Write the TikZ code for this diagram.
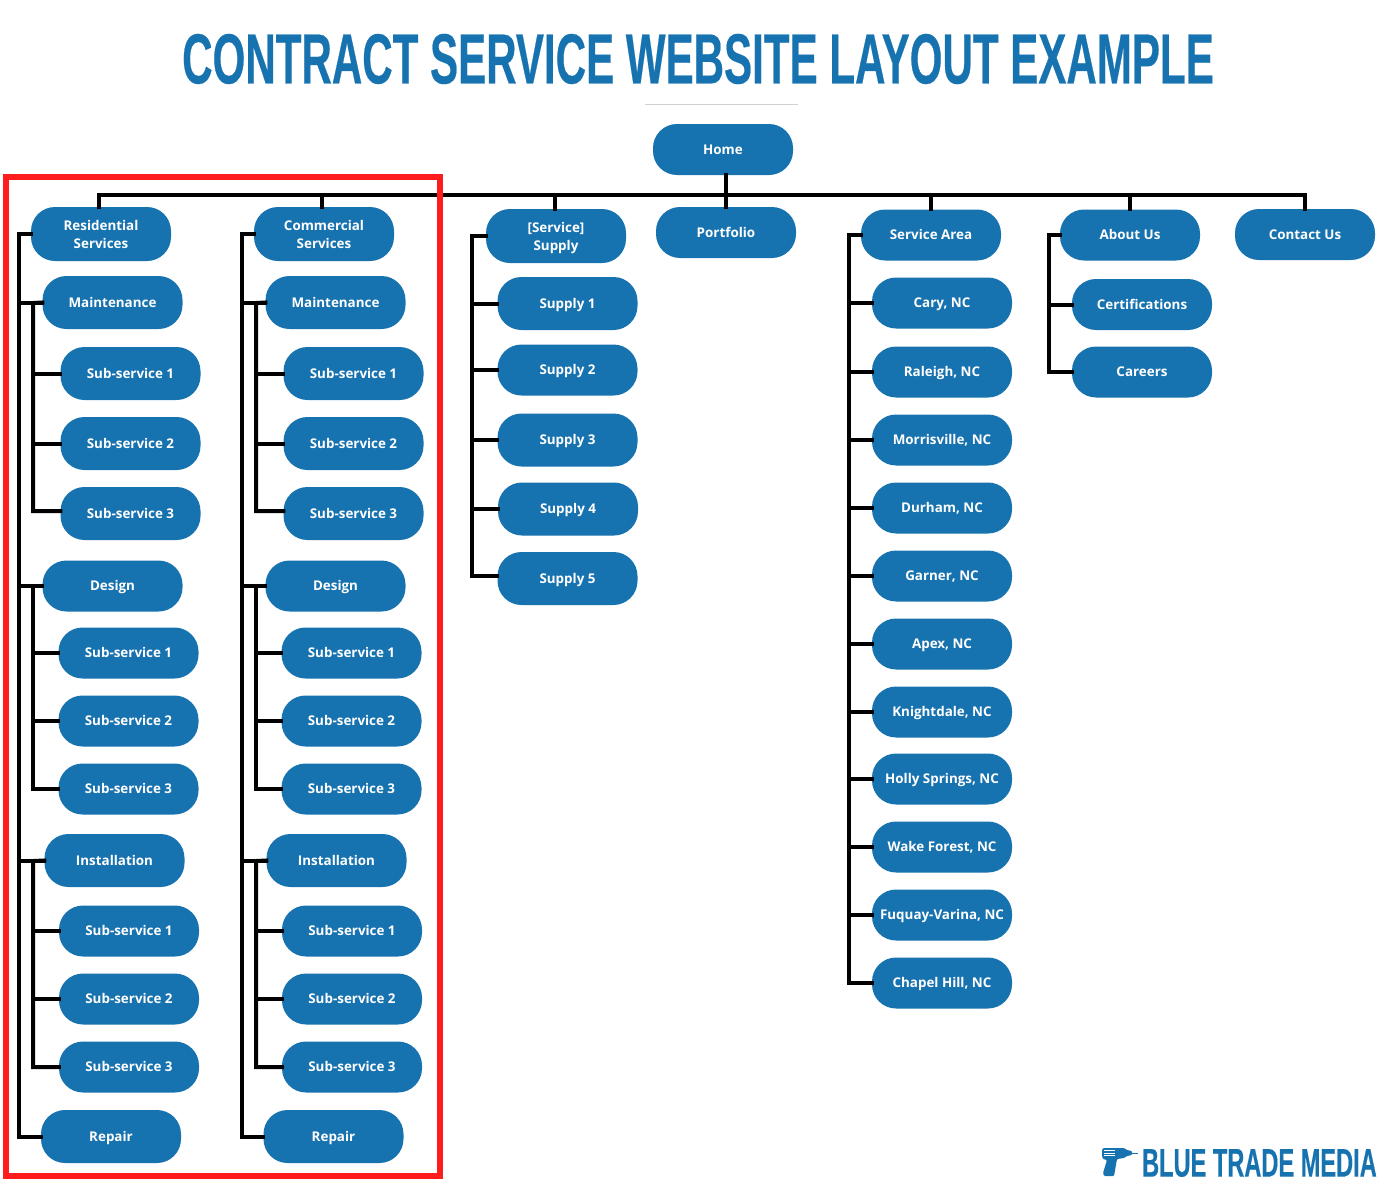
\documentclass[tikz,border=0pt]{standalone}
\usepackage{fontspec}
\setmainfont{Open Sans}
\newfontfamily\titlefont[FakeStretch=0.593,FakeBold=0.3]{Liberation Sans Bold}
\newfontfamily\logofont[FakeStretch=0.59,FakeBold=0.3]{Liberation Sans Bold}
\definecolor{pillblue}{HTML}{1772B0}
\definecolor{framered}{HTML}{FF1C1C}
\tikzset{
  pill/.style={fill=pillblue,text=white,font=\fontsize{13.4}{18}\selectfont\bfseries,
    minimum width=140pt,minimum height=51pt,inner sep=0pt,rounded corners=24pt,align=center,
    text height=9pt,text depth=0pt},
  pilltwo/.style={pill,minimum height=54pt,text height=29pt},
  link/.style={line width=4pt,line cap=rect}
}
\begin{document}
\begin{tikzpicture}[x=1pt,y=-1pt]
      \useasboundingbox (0,0) rectangle (1400,1200);
      \node[font=\titlefont\fontsize{71}{71}\selectfont,text=pillblue,inner sep=0pt] (title) at (698,59) {CONTRACT SERVICE WEBSITE LAYOUT EXAMPLE};
      \coordinate (ruleleft) at (645,104);
      \coordinate (ruleright) at (798,104);
      \draw[black!18,line width=1pt] (ruleleft) -- (ruleright);
      \coordinate (bus) at (726,195);
      \coordinate (busres) at (99,195);
      \coordinate (buscom) at (322,195);
      \coordinate (bussup) at (555,195);
      \coordinate (busare) at (931,195);
      \coordinate (busabo) at (1130,195);
      \coordinate (buscon) at (1305,195);
      \coordinate (tres) at (19,234);
      \coordinate (tcom) at (242,234);
      \coordinate (tsup) at (472,236);
      \coordinate (tare) at (849,235);
      \coordinate (tabo) at (1049,235);
      \coordinate (tresm) at (33,303);
      \coordinate (tresd) at (33,586);
      \coordinate (tresi) at (33,861);
      \coordinate (tcomm) at (256,303);
      \coordinate (tcomd) at (256,586);
      \coordinate (tcomi) at (256,861);
      \draw
        (723,149.5) node[pill] (home){Home}
        (101,234) node[pilltwo] (res){Residential\\Services}
        (324,234) node[pilltwo] (com){Commercial\\Services}
        (556,236) node[pilltwo] (sup){[Service]\\Supply}
        (726,232.5) node[pill] (por){Portfolio}
        (931,235) node[pill] (are){Service Area}
        (1130,235) node[pill] (abo){About Us}
        (1305,234.5) node[pill] (con){Contact Us}
        (112.5,302.5) node[pill,minimum height=53pt] (rm){Maintenance}
        (130.5,373.5) node[pill,minimum height=53pt] (rm1){Sub-service 1}
        (130.5,443.5) node[pill,minimum height=53pt] (rm2){Sub-service 2}
        (130.5,513.5) node[pill,minimum height=53pt] (rm3){Sub-service 3}
        (112.5,586) node[pill] (rd){Design}
        (128.5,653) node[pill] (rd1){Sub-service 1}
        (128.5,721) node[pill] (rd2){Sub-service 2}
        (128.5,789) node[pill] (rd3){Sub-service 3}
        (114.5,860.5) node[pill,minimum height=53pt] (ri){Installation}
        (129,931) node[pill] (ri1){Sub-service 1}
        (129,999) node[pill] (ri2){Sub-service 2}
        (129,1067) node[pill] (ri3){Sub-service 3}
        (111,1136.5) node[pill,minimum height=53pt] (rr){Repair}
        (335.5,302.5) node[pill,minimum height=53pt] (cm){Maintenance}
        (353.5,373.5) node[pill,minimum height=53pt] (cm1){Sub-service 1}
        (353.5,443.5) node[pill,minimum height=53pt] (cm2){Sub-service 2}
        (353.5,513.5) node[pill,minimum height=53pt] (cm3){Sub-service 3}
        (335.5,586) node[pill] (cd){Design}
        (351.5,653) node[pill] (cd1){Sub-service 1}
        (351.5,721) node[pill] (cd2){Sub-service 2}
        (351.5,789) node[pill] (cd3){Sub-service 3}
        (336.5,860.5) node[pill,minimum height=53pt] (ci){Installation}
        (352,931) node[pill] (ci1){Sub-service 1}
        (352,999) node[pill] (ci2){Sub-service 2}
        (352,1067) node[pill] (ci3){Sub-service 3}
        (333.5,1136.5) node[pill,minimum height=53pt] (cr){Repair}
        (567.5,303.5) node[pill,minimum height=53pt] (s1){Supply 1}
        (567.5,370) node[pill] (s2){Supply 2}
        (567.5,440) node[pill,minimum height=53pt] (s3){Supply 3}
        (568,509) node[pill,minimum height=53pt] (s4){Supply 4}
        (567.5,578.5) node[pill,minimum height=53pt] (s5){Supply 5}
        (942,303) node[pill] (a1){Cary, NC}
        (942,372) node[pill] (a2){Raleigh, NC}
        (942,440) node[pill] (a3){Morrisville, NC}
        (942,508) node[pill] (a4){Durham, NC}
        (942,576) node[pill] (a5){Garner, NC}
        (942,644) node[pill] (a6){Apex, NC}
        (942,712) node[pill] (a7){Knightdale, NC}
        (942,779) node[pill] (a8){Holly Springs, NC}
        (942,847) node[pill] (a9){Wake Forest, NC}
        (942,915) node[pill] (a10){Fuquay-Varina, NC}
        (942,983) node[pill] (a11){Chapel Hill, NC}
        (1142,304.5) node[pill] (b1){Certifications}
        (1142,372) node[pill] (b2){Careers};
      \begin{scope}[link]
        \draw (busres) -- (buscon);
        \draw (bus |- home.south) to (por.north);
        \draw (busres) to (busres |- res.north);
        \draw (buscom) to (buscom |- com.north);
        \draw (bussup) to (bussup |- sup.north);
        \draw (busare) to (busare |- are.north);
        \draw (busabo) to (busabo |- abo.north);
        \draw (buscon) to (buscon |- con.north);
        \draw (res.west) -- (tres) |- (rr.west);
        \draw (tres) |- (rm.west);
        \draw (tres) |- (rd.west);
        \draw (tres) |- (ri.west);
        \draw (rm.west) -- (tresm) |- ([yshift=2.5pt]rm3.west);
        \draw (tresm) |- (rm1.west);
        \draw (tresm) |- (rm2.west);
        \draw (rd.west) -- (tresd) |- (rd3.west);
        \draw (tresd) |- (rd1.west);
        \draw (tresd) |- (rd2.west);
        \draw (ri.west) -- (tresi) |- (ri3.west);
        \draw (tresi) |- (ri1.west);
        \draw (tresi) |- (ri2.west);
        \draw (com.west) -- (tcom) |- (cr.west);
        \draw (tcom) |- (cm.west);
        \draw (tcom) |- (cd.west);
        \draw (tcom) |- (ci.west);
        \draw (cm.west) -- (tcomm) |- ([yshift=2.5pt]cm3.west);
        \draw (tcomm) |- (cm1.west);
        \draw (tcomm) |- (cm2.west);
        \draw (cd.west) -- (tcomd) |- (cd3.west);
        \draw (tcomd) |- (cd1.west);
        \draw (tcomd) |- (cd2.west);
        \draw (ci.west) -- (tcomi) |- (ci3.west);
        \draw (tcomi) |- (ci1.west);
        \draw (tcomi) |- (ci2.west);
        \draw (sup.west) -- (tsup) |- ([yshift=2.5pt]s5.west);
        \draw (tsup) |- (s1.west);
        \draw (tsup) |- (s2.west);
        \draw (tsup) |- (s3.west);
        \draw (tsup) |- (s4.west);
        \draw (are.west) -- (tare) |- (a11.west);
        \draw (tare) |- (a1.west);
        \draw (tare) |- (a2.west);
        \draw (tare) |- (a3.west);
        \draw (tare) |- (a4.west);
        \draw (tare) |- (a5.west);
        \draw (tare) |- (a6.west);
        \draw (tare) |- (a7.west);
        \draw (tare) |- (a8.west);
        \draw (tare) |- (a9.west);
        \draw (tare) |- (a10.west);
        \draw (abo.west) -- (tabo) |- (b2.west);
        \draw (tabo) |- (b1.west);
      \end{scope}
      \draw[framered,line width=5.6pt] (6,177) rectangle (440,1176);
      \fill[pillblue,rounded corners=1pt] (1103,1148) -- (1124,1148) -- (1127,1150) -- (1132,1151) -- (1132,1155) -- (1127,1156) -- (1124,1158) -- (1117,1159) -- (1114,1176) -- (1104,1176) -- (1103,1173) -- (1107,1160) -- (1103,1159) -- (1102,1156) -- (1102,1150) -- cycle;
      \fill[pillblue] (1132,1152.5) rectangle (1138,1153.5);
      \draw[white,line width=.8pt] (1104,1150.5) -- (1115,1150.5) (1104,1153) -- (1115,1153) (1104,1155.5) -- (1115,1155.5);
      \node[font=\logofont\fontsize{40}{40}\selectfont,text=pillblue,inner sep=0pt,anchor=east] (logo) at (1377,1163) {BLUE TRADE MEDIA};
    \end{tikzpicture}
\end{document}
